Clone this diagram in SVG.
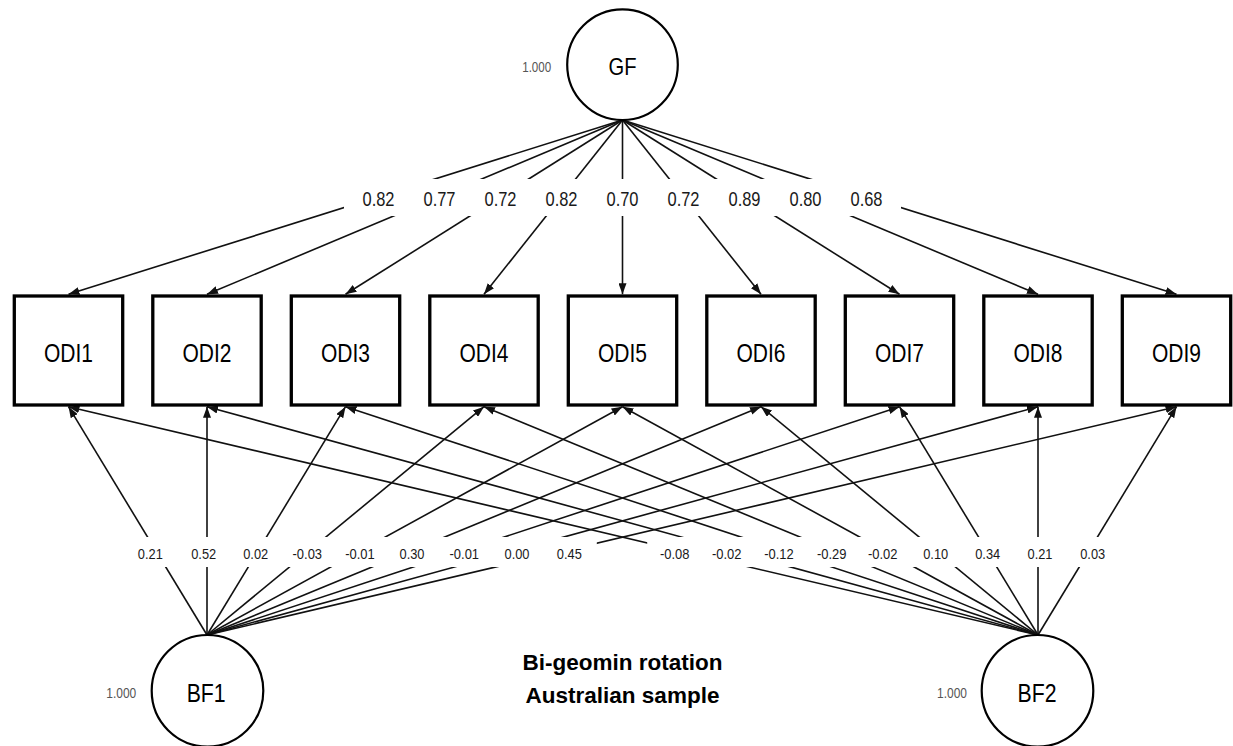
<svg xmlns="http://www.w3.org/2000/svg" width="1233" height="746" viewBox="0 0 1233 746">
  <style>
    .edge { stroke: #111; stroke-width: 1.6; fill: none; marker-end: url(#arrow); }
    .lbg { fill: #fff; stroke: none; }
    .lt { font-family: "Liberation Sans Narrow", "Liberation Sans", Arial, sans-serif; fill: #1a1a1a; text-anchor: middle; }
    .lt-top { font-size: 20px; }
    .lt-bot { font-size: 15.5px; }
    .box { fill: #fff; stroke: #000; stroke-width: 3.3; }
    .circ { fill: #fff; stroke: #000; stroke-width: 2.2; }
    .name { font-family: "Liberation Sans Narrow", "Liberation Sans", Arial, sans-serif; fill: #000; text-anchor: middle; }
    .odi { font-size: 25.6px; }
    .var { font-family: "Liberation Sans Narrow", "Liberation Sans", Arial, sans-serif; font-size: 14px; fill: #555; text-anchor: middle; }
    .title { font-family: "Liberation Sans", Arial, sans-serif; font-weight: bold; font-size: 22.5px; fill: #000; text-anchor: middle; }
  </style>
  <defs>
    <marker id="arrow" markerUnits="userSpaceOnUse" markerWidth="11" markerHeight="8" refX="11" refY="4" orient="auto">
      <path d="M0,0 L11,4 L0,8 z" fill="#111"/>
    </marker>
  </defs>

  <rect width="1233" height="746" fill="#fff"/>

  <g id="connectors">
    <!-- general factor loadings -->
    <line class="edge" x1="622.5" y1="120" x2="68.5" y2="294.3"/>
    <line class="edge" x1="622.5" y1="120" x2="207" y2="294.3"/>
    <line class="edge" x1="622.5" y1="120" x2="345.5" y2="294.3"/>
    <line class="edge" x1="622.5" y1="120" x2="484" y2="294.3"/>
    <line class="edge" x1="622.5" y1="120" x2="622.5" y2="294.3"/>
    <line class="edge" x1="622.5" y1="120" x2="761" y2="294.3"/>
    <line class="edge" x1="622.5" y1="120" x2="899.5" y2="294.3"/>
    <line class="edge" x1="622.5" y1="120" x2="1038" y2="294.3"/>
    <line class="edge" x1="622.5" y1="120" x2="1176.5" y2="294.3"/>
    <!-- BF1 loadings -->
    <line class="edge" x1="207" y1="635" x2="68.5" y2="406.7"/>
    <line class="edge" x1="207" y1="635" x2="207" y2="406.7"/>
    <line class="edge" x1="207" y1="635" x2="345.5" y2="406.7"/>
    <line class="edge" x1="207" y1="635" x2="484" y2="406.7"/>
    <line class="edge" x1="207" y1="635" x2="622.5" y2="406.7"/>
    <line class="edge" x1="207" y1="635" x2="761" y2="406.7"/>
    <line class="edge" x1="207" y1="635" x2="899.5" y2="406.7"/>
    <line class="edge" x1="207" y1="635" x2="1038" y2="406.7"/>
    <line class="edge" x1="207" y1="635" x2="1176.5" y2="406.7"/>
    <!-- BF2 loadings -->
    <line class="edge" x1="1038" y1="635" x2="68.5" y2="406.7"/>
    <line class="edge" x1="1038" y1="635" x2="207" y2="406.7"/>
    <line class="edge" x1="1038" y1="635" x2="345.5" y2="406.7"/>
    <line class="edge" x1="1038" y1="635" x2="484" y2="406.7"/>
    <line class="edge" x1="1038" y1="635" x2="622.5" y2="406.7"/>
    <line class="edge" x1="1038" y1="635" x2="761" y2="406.7"/>
    <line class="edge" x1="1038" y1="635" x2="899.5" y2="406.7"/>
    <line class="edge" x1="1038" y1="635" x2="1038" y2="406.7"/>
    <line class="edge" x1="1038" y1="635" x2="1176.5" y2="406.7"/>

    <!-- label backgrounds -->
    <g id="label-bg">
      <rect class="lbg" x="344" y="179" width="69" height="37"/>
      <rect class="lbg" x="405" y="179" width="69" height="37"/>
      <rect class="lbg" x="466" y="179" width="69" height="37"/>
      <rect class="lbg" x="527" y="179" width="69" height="37"/>
      <rect class="lbg" x="588" y="179" width="69" height="37"/>
      <rect class="lbg" x="649" y="179" width="69" height="37"/>
      <rect class="lbg" x="710" y="179" width="69" height="37"/>
      <rect class="lbg" x="771" y="179" width="69" height="37"/>
      <rect class="lbg" x="832" y="179" width="69" height="37"/>

      <rect class="lbg" x="122.8" y="537" width="55" height="30"/>
      <rect class="lbg" x="176.2" y="537" width="55" height="30"/>
      <rect class="lbg" x="228.2" y="537" width="55" height="30"/>
      <rect class="lbg" x="279.8" y="537" width="55" height="30"/>
      <rect class="lbg" x="332.5" y="537" width="55" height="30"/>
      <rect class="lbg" x="384.5" y="537" width="55" height="30"/>
      <rect class="lbg" x="436.8" y="537" width="55" height="30"/>
      <rect class="lbg" x="489.5" y="537" width="55" height="30"/>
      <rect class="lbg" x="541.8" y="537" width="55" height="30"/>
      <rect class="lbg" x="647.2" y="537" width="55" height="30"/>
      <rect class="lbg" x="699.2" y="537" width="55" height="30"/>
      <rect class="lbg" x="751.5" y="537" width="55" height="30"/>
      <rect class="lbg" x="804.2" y="537" width="55" height="30"/>
      <rect class="lbg" x="855.2" y="537" width="55" height="30"/>
      <rect class="lbg" x="908.2" y="537" width="55" height="30"/>
      <rect class="lbg" x="960.2" y="537" width="55" height="30"/>
      <rect class="lbg" x="1012.5" y="537" width="55" height="30"/>
      <rect class="lbg" x="1065.2" y="537" width="55" height="30"/>
    </g>

    <!-- label values (condensed to the narrow face widths) -->
    <g id="label-top" class="lt lt-top">
      <text x="378.5" y="206" textLength="32" lengthAdjust="spacingAndGlyphs">0.82</text>
      <text x="439.5" y="206" textLength="32" lengthAdjust="spacingAndGlyphs">0.77</text>
      <text x="500.5" y="206" textLength="32" lengthAdjust="spacingAndGlyphs">0.72</text>
      <text x="561.5" y="206" textLength="32" lengthAdjust="spacingAndGlyphs">0.82</text>
      <text x="622.5" y="206" textLength="32" lengthAdjust="spacingAndGlyphs">0.70</text>
      <text x="683.5" y="206" textLength="32" lengthAdjust="spacingAndGlyphs">0.72</text>
      <text x="744.5" y="206" textLength="32" lengthAdjust="spacingAndGlyphs">0.89</text>
      <text x="805.5" y="206" textLength="32" lengthAdjust="spacingAndGlyphs">0.80</text>
      <text x="866.5" y="206" textLength="32" lengthAdjust="spacingAndGlyphs">0.68</text>
    </g>
    <g id="label-bottom" class="lt lt-bot">
      <text x="150.3" y="559.3" textLength="25" lengthAdjust="spacingAndGlyphs">0.21</text>
      <text x="203.7" y="559.3" textLength="25" lengthAdjust="spacingAndGlyphs">0.52</text>
      <text x="255.7" y="559.3" textLength="25" lengthAdjust="spacingAndGlyphs">0.02</text>
      <text x="307.3" y="559.3" textLength="29.5" lengthAdjust="spacingAndGlyphs">-0.03</text>
      <text x="360" y="559.3" textLength="29.5" lengthAdjust="spacingAndGlyphs">-0.01</text>
      <text x="412" y="559.3" textLength="25" lengthAdjust="spacingAndGlyphs">0.30</text>
      <text x="464.3" y="559.3" textLength="29.5" lengthAdjust="spacingAndGlyphs">-0.01</text>
      <text x="517" y="559.3" textLength="25" lengthAdjust="spacingAndGlyphs">0.00</text>
      <text x="569.3" y="559.3" textLength="25" lengthAdjust="spacingAndGlyphs">0.45</text>
      <text x="674.7" y="559.3" textLength="29.5" lengthAdjust="spacingAndGlyphs">-0.08</text>
      <text x="726.7" y="559.3" textLength="29.5" lengthAdjust="spacingAndGlyphs">-0.02</text>
      <text x="779" y="559.3" textLength="29.5" lengthAdjust="spacingAndGlyphs">-0.12</text>
      <text x="831.7" y="559.3" textLength="29.5" lengthAdjust="spacingAndGlyphs">-0.29</text>
      <text x="882.7" y="559.3" textLength="29.5" lengthAdjust="spacingAndGlyphs">-0.02</text>
      <text x="935.7" y="559.3" textLength="25" lengthAdjust="spacingAndGlyphs">0.10</text>
      <text x="987.7" y="559.3" textLength="25" lengthAdjust="spacingAndGlyphs">0.34</text>
      <text x="1040" y="559.3" textLength="25" lengthAdjust="spacingAndGlyphs">0.21</text>
      <text x="1092.7" y="559.3" textLength="25" lengthAdjust="spacingAndGlyphs">0.03</text>
    </g>
  </g>

  <!-- latent factors -->
  <g id="GF">
    <circle class="circ" cx="622.5" cy="64.7" r="55.3"/>
    <text class="name" x="622.5" y="75" font-size="24" textLength="28" lengthAdjust="spacingAndGlyphs">GF</text>
    <text class="var" x="536.7" y="71.7" textLength="29" lengthAdjust="spacingAndGlyphs">1.000</text>
  </g>
  <g id="BF1">
    <circle class="circ" cx="207.5" cy="690.8" r="55.8"/>
    <text class="name" x="206.2" y="701.7" font-size="26" textLength="39" lengthAdjust="spacingAndGlyphs">BF1</text>
    <text class="var" x="121.3" y="698.3" textLength="30" lengthAdjust="spacingAndGlyphs">1.000</text>
  </g>
  <g id="BF2">
    <circle class="circ" cx="1037.5" cy="690.8" r="55.8"/>
    <text class="name" x="1037" y="701.7" font-size="26" textLength="39" lengthAdjust="spacingAndGlyphs">BF2</text>
    <text class="var" x="952" y="698.3" textLength="30" lengthAdjust="spacingAndGlyphs">1.000</text>
  </g>

  <!-- observed indicators -->
  <g id="ODI1"><rect class="box" x="14.3" y="296" width="108.4" height="109"/><text class="name odi" x="68.5" y="361.7" textLength="49" lengthAdjust="spacingAndGlyphs">ODI1</text></g>
  <g id="ODI2"><rect class="box" x="152.8" y="296" width="108.4" height="109"/><text class="name odi" x="207" y="361.7" textLength="49" lengthAdjust="spacingAndGlyphs">ODI2</text></g>
  <g id="ODI3"><rect class="box" x="291.3" y="296" width="108.4" height="109"/><text class="name odi" x="345.5" y="361.7" textLength="49" lengthAdjust="spacingAndGlyphs">ODI3</text></g>
  <g id="ODI4"><rect class="box" x="429.8" y="296" width="108.4" height="109"/><text class="name odi" x="484" y="361.7" textLength="49" lengthAdjust="spacingAndGlyphs">ODI4</text></g>
  <g id="ODI5"><rect class="box" x="568.3" y="296" width="108.4" height="109"/><text class="name odi" x="622.5" y="361.7" textLength="49" lengthAdjust="spacingAndGlyphs">ODI5</text></g>
  <g id="ODI6"><rect class="box" x="706.8" y="296" width="108.4" height="109"/><text class="name odi" x="761" y="361.7" textLength="49" lengthAdjust="spacingAndGlyphs">ODI6</text></g>
  <g id="ODI7"><rect class="box" x="845.3" y="296" width="108.4" height="109"/><text class="name odi" x="899.5" y="361.7" textLength="49" lengthAdjust="spacingAndGlyphs">ODI7</text></g>
  <g id="ODI8"><rect class="box" x="983.8" y="296" width="108.4" height="109"/><text class="name odi" x="1038" y="361.7" textLength="49" lengthAdjust="spacingAndGlyphs">ODI8</text></g>
  <g id="ODI9"><rect class="box" x="1122.3" y="296" width="108.4" height="109"/><text class="name odi" x="1176.5" y="361.7" textLength="49" lengthAdjust="spacingAndGlyphs">ODI9</text></g>

  <!-- caption -->
  <text class="title" x="622.5" y="670">Bi-geomin rotation</text>
  <text class="title" x="622.5" y="703.3">Australian sample</text>
</svg>
